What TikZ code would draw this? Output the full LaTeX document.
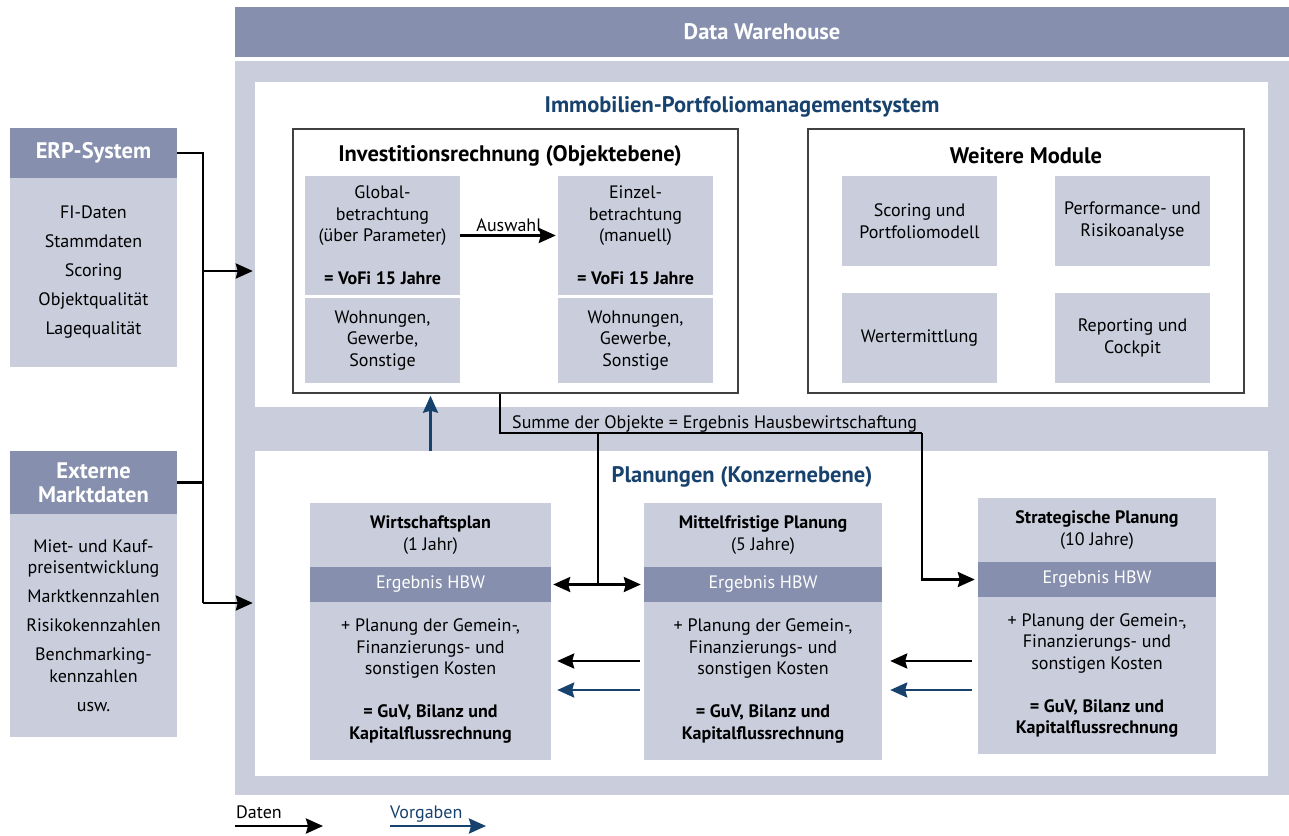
\documentclass[tikz,border=0pt]{standalone}
\usepackage{fontspec}
\setmainfont{PT Sans}
\usetikzlibrary{arrows.meta}

\definecolor{dwdark}{RGB}{134,144,174}
\definecolor{dwlight}{RGB}{201,205,220}
\definecolor{dwnavy}{RGB}{24,66,110}

\tikzset{
  every node/.style={font=\fontsize{18}{21.5}\selectfont},
  lightbox/.style={fill=dwlight, inner sep=0pt, align=center},
  darkbox/.style={fill=dwdark, text=white, inner sep=0pt, align=center},
  whitebox/.style={fill=white, inner sep=0pt},
  framebox/.style={draw=black!75, line width=1.4pt, fill=white, inner sep=0pt},
  bigtitle/.style={font=\fontsize{22.5}{24}\selectfont\bfseries},
  dataline/.style={line width=2.6pt, black},
  tip/.style={-{Stealth[length=17pt,width=15pt,inset=2pt]}},
  data/.style={dataline, tip},
  vorgabe/.style={line width=2.6pt, dwnavy, tip},
}

\begin{document}
\begin{tikzpicture}[x=1pt,y=-1pt]
\useasboundingbox (0,0) rectangle (1289,835);

% Data Warehouse
\node[darkbox, bigtitle, minimum width=1054pt, minimum height=50pt] (dwh) at (762,32) {Data Warehouse};
\node[lightbox, minimum width=1054pt, minimum height=734pt] (panel) at (762,428) {};

\node[whitebox, minimum width=1013pt, minimum height=325pt] (ims) at (761.5,244.5) {};
\node[whitebox, minimum width=1013pt, minimum height=325pt] (plan) at (761.5,613.5) {};
\node[bigtitle, text=dwnavy] (imstitle) at (742,107) {Immobilien-Portfoliomanagementsystem};
\node[bigtitle, text=dwnavy] (plantitle) at (742,477) {Planungen (Konzernebene)};

% Investitionsrechnung
\node[framebox, minimum width=445pt, minimum height=264pt] (invest) at (515.5,261) {};
\node[bigtitle] (investtitle) at (510,156) {Investitionsrechnung (Objektebene)};
\node[lightbox, minimum width=155pt, minimum height=119pt] (global) at (382.5,235.5)
  {Global-\\betrachtung\\(über Parameter)\\[21.5pt]\textbf{= VoFi 15 Jahre}};
\node[lightbox, minimum width=155pt, minimum height=85pt] (globalobj) at (382.5,340.5)
  {Wohnungen,\\Gewerbe,\\Sonstige};
\node[lightbox, minimum width=155pt, minimum height=119pt] (einzel) at (635.5,235.5)
  {Einzel-\\betrachtung\\(manuell)\\[21.5pt]\textbf{= VoFi 15 Jahre}};
\node[lightbox, minimum width=155pt, minimum height=85pt] (einzelobj) at (635.5,340.5)
  {Wohnungen,\\Gewerbe,\\Sonstige};
\draw[data, shorten >=2pt] (global.east) -- node[above=1pt, inner sep=1pt] (auswahl) {Auswahl} (einzel.west);

% Weitere Module
\node[framebox, minimum width=436pt, minimum height=264pt] (module) at (1026,261) {};
\node[bigtitle] (moduletitle) at (1026,156) {Weitere Module};
\node[lightbox, minimum width=155pt, minimum height=90pt] (scoring) at (919.5,221) {Scoring und\\Portfoliomodell};
\node[lightbox, minimum width=155pt, minimum height=90pt] (perf) at (1132.5,221) {Performance- und\\Risikoanalyse};
\node[lightbox, minimum width=155pt, minimum height=90pt] (wert) at (919.5,338) {Wertermittlung};
\node[lightbox, minimum width=155pt, minimum height=90pt] (report) at (1132.5,338) {Reporting und\\Cockpit};

% Quellsysteme
\node[darkbox, bigtitle, minimum width=167pt, minimum height=50pt] (erp) at (93.5,153) {ERP-System};
\node[lightbox, minimum width=167pt, minimum height=189pt] (erpbody) at (93.5,272.5)
  {FI-Daten\\[7.5pt]Stammdaten\\[7.5pt]Scoring\\[7.5pt]Objektqualität\\[7.5pt]Lagequalität};
\node[darkbox, bigtitle, minimum width=167pt, minimum height=63pt] (ext) at (93.5,482.5) {Externe\\Marktdaten};
\node[lightbox, minimum width=167pt, minimum height=223pt] (extbody) at (93.5,625.5)
  {Miet- und Kauf-\\preisentwicklung\\[7.5pt]Marktkennzahlen\\[7.5pt]Risikokennzahlen\\[7.5pt]Benchmarking-\\kennzahlen\\[7.5pt]usw.};

\coordinate (jtop) at (203,271);
\coordinate (jbot) at (203,603);
\draw[dataline] (erp.east) -| (jbot);
\draw[dataline] (ext.east) -- (ext.east -| jbot);
\draw[data, shorten >=2pt] (jtop) -- (jtop -| ims.west);
\draw[data, shorten >=2pt] (jbot) -- (jbot -| plan.west);

% Planungen
\node[lightbox, minimum width=241pt, minimum height=64pt] (wp) at (430.5,535) {\textbf{Wirtschaftsplan}\\(1 Jahr)};
\node[darkbox, minimum width=241pt, minimum height=35pt] (wpband) at (430.5,584.5) {Ergebnis HBW};
\node[lightbox, minimum width=241pt, minimum height=158pt] (wpbody) at (430.5,681)
  {+ Planung der Gemein-,\\Finanzierungs- und\\sonstigen Kosten\\[21.5pt]\textbf{= GuV, Bilanz und}\\\textbf{Kapitalflussrechnung}};

\node[lightbox, minimum width=238pt, minimum height=64pt] (mf) at (763,535) {\textbf{Mittelfristige Planung}\\(5 Jahre)};
\node[darkbox, minimum width=238pt, minimum height=35pt] (mfband) at (763,584.5) {Ergebnis HBW};
\node[lightbox, minimum width=238pt, minimum height=158pt] (mfbody) at (763,681)
  {+ Planung der Gemein-,\\Finanzierungs- und\\sonstigen Kosten\\[21.5pt]\textbf{= GuV, Bilanz und}\\\textbf{Kapitalflussrechnung}};

\node[lightbox, minimum width=238pt, minimum height=64pt] (st) at (1097,530) {\textbf{Strategische Planung}\\(10 Jahre)};
\node[darkbox, minimum width=238pt, minimum height=35pt] (stband) at (1097,579.5) {Ergebnis HBW};
\node[lightbox, minimum width=238pt, minimum height=157pt] (stbody) at (1097,675.5)
  {+ Planung der Gemein-,\\Finanzierungs- und\\sonstigen Kosten\\[21.5pt]\textbf{= GuV, Bilanz und}\\\textbf{Kapitalflussrechnung}};

% Verbindungen
\draw[vorgabe, shorten >=2pt] (wp.north |- plan.north) -- (wp.north |- invest.south);
\coordinate (sumL) at (500,433);
\coordinate (sumM) at (598,433);
\coordinate (sumR) at (922,433);
\draw[dataline] (invest.south -| sumL) -- (sumL) -- (sumR);
\draw[data, shorten >=3pt] (sumR) |- (stband.west);
\draw[dataline] (sumM) -- (sumM |- mfband.west);
\draw[dataline, {Stealth[length=17pt,width=15pt,inset=2pt]}-{Stealth[length=17pt,width=15pt,inset=2pt]}, shorten <=2pt, shorten >=3pt] (wpband.east) -- (mfband.west);
\node[anchor=base west, inner sep=0pt] (summe) at (512,428) {Summe der Objekte = Ergebnis Hausbewirtschaftung};

\coordinate (ydat) at (0,661);
\coordinate (yvor) at (0,690);
\draw[data, shorten <=4pt, shorten >=6pt] (mfbody.west |- ydat) -- (wpbody.east |- ydat);
\draw[vorgabe, shorten <=4pt, shorten >=6pt] (mfbody.west |- yvor) -- (wpbody.east |- yvor);
\draw[data, shorten <=6pt, shorten >=8pt] (stbody.west |- ydat) -- (mfbody.east |- ydat);
\draw[vorgabe, shorten <=6pt, shorten >=8pt] (stbody.west |- yvor) -- (mfbody.east |- yvor);

% Legende
\node[anchor=base west, inner sep=0pt] (daten) at (236,818) {Daten};
\coordinate (dA) at (235,826);
\coordinate (dB) at (323,826);
\draw[data] (dA) -- (dB);
\node[anchor=base west, inner sep=0pt, text=dwnavy] (vorgaben) at (390,818) {Vorgaben};
\coordinate (vA) at (390,826);
\coordinate (vB) at (486,826);
\draw[vorgabe] (vA) -- (vB);
\end{tikzpicture}
\end{document}
